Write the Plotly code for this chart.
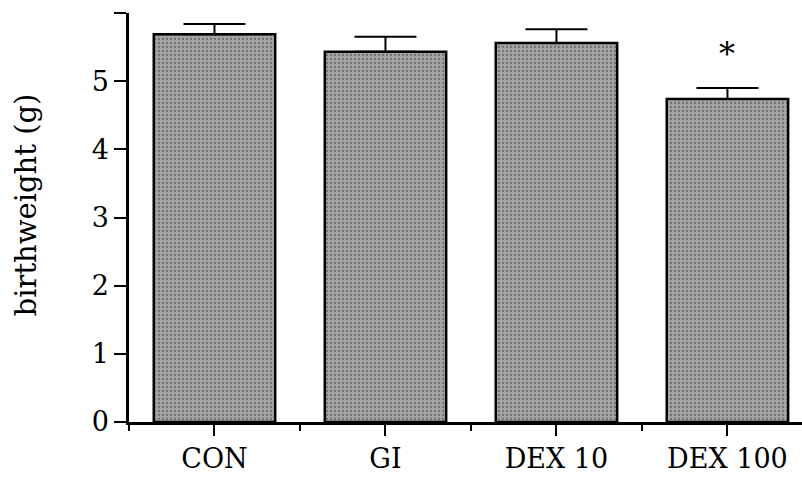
import plotly.graph_objects as go

# Mean birthweight per treatment group with upper SEM bars
groups = ["CON", "GI", "DEX 10", "DEX 100"]
birthweight = [5.69, 5.43, 5.56, 4.74]
sem = [0.15, 0.22, 0.20, 0.16]
significant = [False, False, False, True]

xpos = list(range(len(groups)))
font_family = "DejaVu Serif"

fig = go.Figure()
fig.add_trace(go.Bar(
    x=xpos,
    y=birthweight,
    width=0.71,
    marker=dict(
        color="#9e9e9e",
        line=dict(color="black", width=2.5),
        pattern=dict(shape=".", fgcolor="#6e6e6e", bgcolor="#a6a6a6",
                     size=4, solidity=0.25, fillmode="replace"),
    ),
    error_y=dict(type="data", array=sem, arrayminus=[0] * len(sem),
                 symmetric=False, color="black", thickness=2, width=31),
))

for x, y, e, sig in zip(xpos, birthweight, sem, significant):
    if sig:
        fig.add_annotation(x=x, y=y + e + 0.5, text="*", showarrow=False,
                           font=dict(family=font_family, size=32, color="black"),
                           yanchor="middle")

# y-axis title placed as rotated text left of the tick labels
fig.add_annotation(text="birthweight (g)", textangle=-90, showarrow=False,
                   xref="paper", yref="paper", x=-0.153, y=0.53,
                   xanchor="center", yanchor="middle",
                   font=dict(family=font_family, size=29, color="black"))

fig.update_layout(
    width=802, height=487,
    margin=dict(l=129, r=0, t=13, b=65),
    paper_bgcolor="white", plot_bgcolor="white",
    showlegend=False,
    font=dict(family=font_family, color="black"),
    xaxis=dict(
        range=[-0.5, 3.436],
        tickvals=xpos, ticktext=groups,
        ticks="outside", ticklen=11, tickwidth=2, tickcolor="black",
        minor=dict(tickvals=[-0.5, 0.5, 1.5, 2.5], ticks="outside",
                   ticklen=6, tickwidth=2, tickcolor="black"),
        showline=True, linecolor="black", linewidth=2.5,
        showgrid=False, zeroline=False,
        tickfont=dict(size=27),
    ),
    yaxis=dict(
        range=[0, 6],
        tickvals=[0, 1, 2, 3, 4, 5, 6],
        ticks="outside", ticklen=12, tickwidth=2, tickcolor="black",
        showline=True, linecolor="black", linewidth=2.5,
        showgrid=False, zeroline=False,
        tickfont=dict(size=27),
    ),
)

fig.write_html("out.html")
